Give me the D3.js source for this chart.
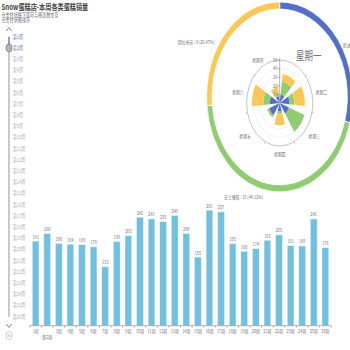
<!DOCTYPE html>
<html>
<head>
<meta charset="utf-8">
<script src="https://cdn.jsdelivr.net/npm/d3@7/dist/d3.min.js"></script>
<style>
  body { margin: 0; background: #fff; }
  svg { display: block; font-family: "Noto Sans CJK SC", "Noto Sans", sans-serif; }
</style>
</head>
<body>
<svg width="350" height="350" viewBox="0 0 455 350" preserveAspectRatio="none"></svg>
<script>
// data
const weeks = ['1周', '2周', '3周', '4周', '5周', '6周', '7周', '8周', '9周', '10周', '11周', '12周', '13周',
    '14周', '15周', '16周', '17周', '18周', '19周', '20周', '21周', '22周', '23周', '24周', '25周', '26周'];
const weekSales = [191, 208, 186, 184, 183, 178, 133, 190, 203, 245, 241, 235, 249,
    208, 155, 261, 257, 185, 168, 174, 193, 205, 181, 180, 241, 176];
const currentWeek = '2周';

const days = ['星期一', '星期二', '星期三', '星期四', '星期五', '星期六', '星期日'];
const cakes = ['奶油蛋糕', '芝士蛋糕', '提拉米苏'];
const creamSales = [10, 15, 15, 10, 17, 15, 8];
const cheeseSales = [15, 7, 25, 2, 3, 10, 3];
const tiramisuSales = [9, 16, 0, 14, 0, 17, 8];
const currentDay = '星期一';
const radiusTicks = [10, 20, 30, 40, 50];

const colors = ['#5470c6', '#91cc75', '#fac858'];

const svg = d3.select('svg');

// title
svg.append('text')
    .attr('x', 2).attr('y', 9.8)
    .attr('font-size', 8).attr('font-weight', 'bold')
    .attr('fill', '#464646')
    .text('Snow蛋糕店-本周各类蛋糕销量');

svg.append('text')
    .attr('x', 2).attr('y', 16.6)
    .attr('font-size', 5.3).attr('fill', '#6e7079')
    .text('点击柱状图下面可与图表数交互');
svg.append('text')
    .attr('x', 2).attr('y', 21.8)
    .attr('font-size', 5.3).attr('fill', '#6e7079')
    .text('点击柱状图排序');

// timeline
const tlX = 11.7;
const tlY = d3.scalePoint().domain(weeks).range([36.7, 316.7]);
const tl = svg.append('g');

tl.append('line')
    .attr('x1', tlX).attr('x2', tlX)
    .attr('y1', tlY(weeks[0])).attr('y2', tlY(weeks[weeks.length - 1]))
    .attr('stroke', '#8c8c8c').attr('stroke-width', 1.2);
tl.append('line')
    .attr('x1', tlX).attr('x2', tlX)
    .attr('y1', tlY(weeks[0])).attr('y2', tlY(currentWeek))
    .attr('stroke', '#4a6ee0').attr('stroke-width', 1.2);

tl.selectAll('.tl-label')
    .data(weeks)
    .join('text')
    .attr('x', 16.5)
    .attr('y', d => tlY(d) + 1.9)
    .attr('font-size', 5.3)
    .attr('fill', d => d === currentWeek || d === weeks[0] ? '#6b7ab8' : '#a9b0c0')
    .text(d => '第' + d);

tl.append('circle')
    .attr('cx', tlX).attr('cy', tlY(currentWeek))
    .attr('r', 4)
    .attr('fill', '#b5b5b5').attr('stroke', '#777').attr('stroke-width', 0.8);

tl.append('path')
    .attr('d', `M${tlX - 3.5},31 L${tlX},27.5 L${tlX + 3.5},31`)
    .attr('fill', 'none').attr('stroke', '#5b7be0').attr('stroke-width', 1);
tl.append('path')
    .attr('d', `M${tlX - 3.5},324 L${tlX},327.5 L${tlX + 3.5},324`)
    .attr('fill', 'none').attr('stroke', '#5b7be0').attr('stroke-width', 1);
tl.append('circle')
    .attr('cx', tlX).attr('cy', 335.5).attr('r', 4)
    .attr('fill', 'none').attr('stroke', '#a4b1d7').attr('stroke-width', 0.7);
tl.append('path')
    .attr('d', `M${tlX - 1},334 L${tlX - 1},337 M${tlX + 1},334 L${tlX + 1},337`)
    .attr('stroke', '#a4b1d7').attr('stroke-width', 0.7);

// bar chart
const x = d3.scaleBand().domain(weeks).range([38.8, 430.5]).padding(0);
const y = d3.scaleLinear().domain([0, 300]).range([325.7, 192.8]);
const bw = x.bandwidth() * 0.58;

const bars = svg.append('g');
bars.selectAll('rect')
    .data(weeks)
    .join('rect')
    .attr('x', d => x(d) + (x.bandwidth() - bw) / 2)
    .attr('y', (d, i) => y(weekSales[i]))
    .attr('width', bw)
    .attr('height', (d, i) => y(0) - y(weekSales[i]))
    .attr('fill', '#73c0de')
    .attr('stroke', '#e8f5fa').attr('stroke-width', 0.6);

bars.selectAll('.val')
    .data(weeks)
    .join('text')
    .attr('x', d => x(d) + x.bandwidth() / 2)
    .attr('y', (d, i) => y(weekSales[i]) - 2.5)
    .attr('text-anchor', 'middle')
    .attr('font-size', 5).attr('fill', '#6e7079')
    .text((d, i) => weekSales[i]);

const axis = svg.append('g');
axis.append('line')
    .attr('x1', x.range()[0]).attr('x2', x.range()[1])
    .attr('y1', y(0)).attr('y2', y(0))
    .attr('stroke', '#6e7079').attr('stroke-width', 0.6);
axis.selectAll('.tick')
    .data(weeks.concat(['end']))
    .join('line')
    .attr('x1', d => d === 'end' ? x.range()[1] : x(d))
    .attr('x2', d => d === 'end' ? x.range()[1] : x(d))
    .attr('y1', y(0)).attr('y2', y(0) + 2)
    .attr('stroke', '#6e7079').attr('stroke-width', 0.6);
axis.selectAll('.lab')
    .data(weeks.filter(d => d !== currentWeek))
    .join('text')
    .attr('x', d => x(d) + x.bandwidth() / 2)
    .attr('y', y(0) + 7)
    .attr('text-anchor', 'middle')
    .attr('font-size', 5).attr('fill', '#6e7079')
    .text(d => d);
axis.append('text')
    .attr('x', x(currentWeek) + x.bandwidth() / 2)
    .attr('y', y(0) + 13)
    .attr('text-anchor', 'middle')
    .attr('font-size', 5).attr('fill', '#6e7079')
    .text('-第' + currentWeek + '-');

// pie ring
const pieCx = 363.6, pieCy = 97;
const dayIdx = days.indexOf(currentDay);
const pieData = [creamSales[dayIdx], cheeseSales[dayIdx], tiramisuSales[dayIdx]];
const total = d3.sum(pieData);
const pie = d3.pie().sort(null)(pieData);
const ring = d3.arc().innerRadius(88).outerRadius(95);
const pieG = svg.append('g').attr('transform', `translate(${pieCx},${pieCy})`);
pieG.selectAll('path')
    .data(pie)
    .join('path')
    .attr('d', ring)
    .attr('fill', (d, i) => colors[i])
    .attr('stroke', '#fff').attr('stroke-width', 0.8);

const pieLabelPos = [[446, 47, 'start'], [342, 199, 'end'], [279, 44, 'end']];
pieG.selectAll('.plab')
    .data(pie)
    .join('text')
    .attr('x', (d, i) => pieLabelPos[i][0] - pieCx)
    .attr('y', (d, i) => pieLabelPos[i][1] - pieCy)
    .attr('text-anchor', (d, i) => pieLabelPos[i][2])
    .attr('font-size', 5).attr('fill', '#6e7079')
    .text((d, i) => `${cakes[i]} : ${d.data} (${(d.data / total * 100).toFixed(2)}%)`);

// polar stacked bars
const pCx = 363.6, pCy = 103;
const ang = d3.scaleBand().domain(days).range([0, 2 * Math.PI]);
const r = d3.scaleLinear().domain([0, 50]).range([0, 43]);
const polar = svg.append('g').attr('transform', `translate(${pCx},${pCy})`);

polar.selectAll('.split')
    .data(radiusTicks.slice(0, -1))
    .join('circle')
    .attr('r', d => r(d))
    .attr('fill', 'none').attr('stroke', '#e0e6f1').attr('stroke-width', 0.6);
polar.append('circle')
    .attr('r', r(50))
    .attr('fill', 'none').attr('stroke', '#9a9ea8').attr('stroke-width', 0.7);

const series = [creamSales, cheeseSales, tiramisuSales];
const stacked = d3.stack().keys([0, 1, 2]).value((d, k) => series[k][d])(days.map((d, i) => i));
const barArc = d3.arc();
const aw = ang.bandwidth() * 0.7;
stacked.forEach((layer, k) => {
    polar.append('g').selectAll('path')
        .data(layer)
        .join('path')
        .attr('d', (d, i) => barArc({
            innerRadius: r(d[0]),
            outerRadius: r(d[1]),
            startAngle: ang(days[i]) + (ang.bandwidth() - aw) / 2,
            endAngle: ang(days[i]) + (ang.bandwidth() + aw) / 2
        }))
        .attr('fill', colors[k]);
});

// angle ticks
polar.selectAll('.atick')
    .data(days)
    .join('line')
    .attr('x1', d => Math.sin(ang(d)) * r(50))
    .attr('y1', d => -Math.cos(ang(d)) * r(50))
    .attr('x2', d => Math.sin(ang(d)) * (r(50) + 2.5))
    .attr('y2', d => -Math.cos(ang(d)) * (r(50) + 2.5))
    .attr('stroke', '#9a9ea8').attr('stroke-width', 0.6);

// angle labels
polar.selectAll('.alab')
    .data(days)
    .join('text')
    .each(function (d) {
        const a = ang(d) + ang.bandwidth() / 2;
        const big = d === currentDay;
        const rr = r(50) + (big ? 6 : 5);
        const sx = Math.sin(a) * rr, sy = -Math.cos(a) * rr;
        d3.select(this)
            .attr('x', sx)
            .attr('y', sy + (big ? 1 : 2) + (Math.cos(a) < -0.5 ? 3 : 0))
            .attr('text-anchor', Math.abs(Math.sin(a)) < 0.1 ? 'middle' : (Math.sin(a) > 0 ? 'start' : 'end'))
            .attr('font-size', big ? 11 : 5)
            .attr('fill', '#6e7079')
            .text(d);
    });

// radius axis
polar.append('line')
    .attr('x1', 0).attr('x2', 0).attr('y1', 0).attr('y2', -r(50))
    .attr('stroke', '#6e7079').attr('stroke-width', 0.6);
polar.selectAll('.rtick')
    .data(radiusTicks)
    .join('line')
    .attr('x1', -2).attr('x2', 0)
    .attr('y1', d => -r(d)).attr('y2', d => -r(d))
    .attr('stroke', '#6e7079').attr('stroke-width', 0.6);
polar.selectAll('.rlab')
    .data(radiusTicks)
    .join('text')
    .attr('x', -3).attr('y', d => -r(d) + 1.8)
    .attr('text-anchor', 'end')
    .attr('font-size', 5).attr('fill', '#6e7079')
    .text(d => d);
</script>
</body>
</html>
